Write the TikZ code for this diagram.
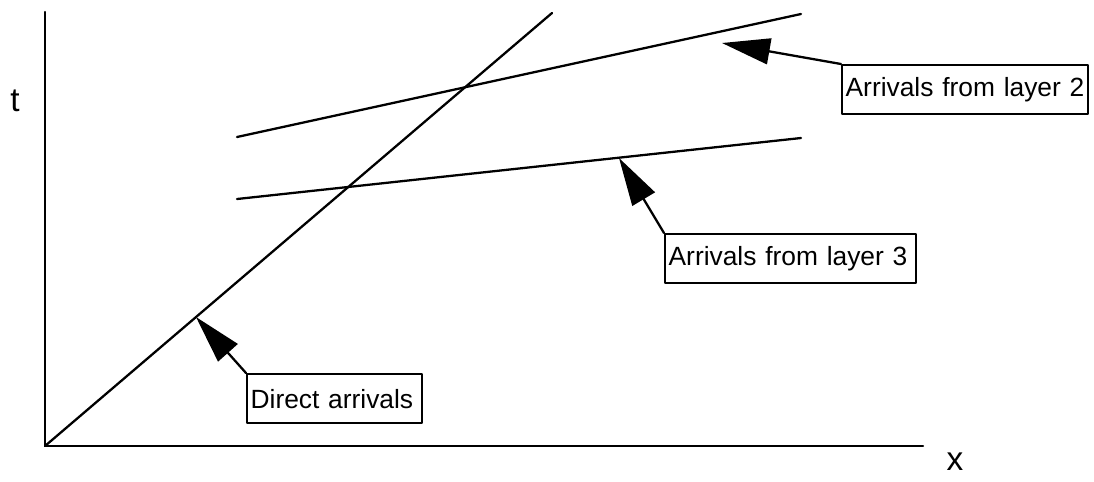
\documentclass[tikz,border=0pt]{standalone}
\usepackage{fontspec}
\setmainfont{Liberation Sans}
\usetikzlibrary{arrows.meta}
\tikzset{
  lblbox/.style={draw, anchor=north west, inner xsep=2pt, inner ysep=0pt,
    minimum height=0.98cm, align=left, font=\fontsize{15}{18}\selectfont},
  pointer/.style={-{Triangle[length=0.96cm,width=0.52cm]}}
}
\begin{document}
\begin{tikzpicture}[x=0.02cm, y=-0.02cm, line width=1.3pt, line join=round, line cap=round]
			\useasboundingbox (0,0) rectangle (1094,481);
			% axes
			\coordinate (O) at (45,446);
			\draw (45,12)--(O)--(923,446);
			\node (tlab) at (15,101) {\fontsize{19}{20}\selectfont t};
			\node (xlab) at (955,462) {\fontsize{19}{20}\selectfont x};
			% travel time curves
			\draw (O)--(552,13);
			\draw (237,137)--(801,14);
			\draw (237,199)--(801,138);
			% labels
			\node[lblbox, text width=4.78cm] (lay2) at (841,64) {Arrivals from layer 2};
			\node[lblbox, text width=4.88cm] (lay3) at (664,233) {Arrivals from layer 3};
			\node[lblbox, text width=3.36cm] (direct) at (246,373) {Direct arrivals};
			\coordinate (tip2) at (722,43);
			\coordinate (tip3) at (619,158);
			\coordinate (tipd) at (196,317);
			\draw[pointer] (lay2.north west)--(tip2);
			\draw[pointer] (lay3.north west)--(tip3);
			\draw[pointer] (direct.north west)--(tipd);
\end{tikzpicture}
\end{document}
